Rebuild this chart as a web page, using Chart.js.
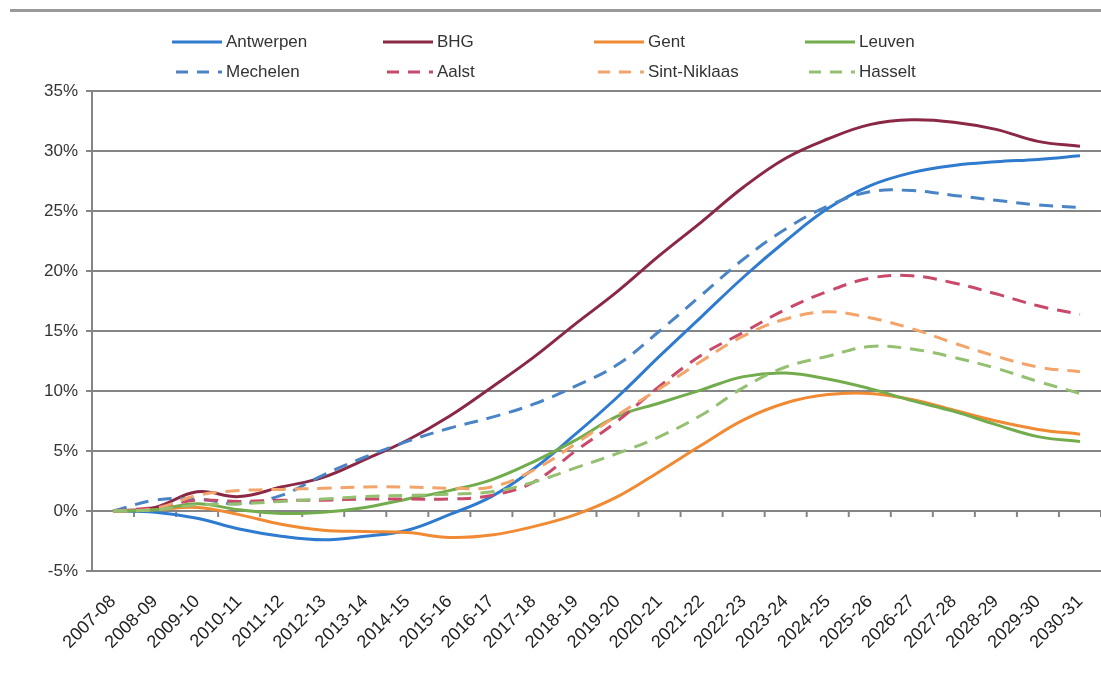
<!DOCTYPE html>
<html>
<head>
<meta charset="utf-8">
<script src="https://cdn.jsdelivr.net/npm/chart.js@4/dist/chart.umd.min.js"></script>
<style>
  body { margin: 0; background: #fff; overflow: hidden; }
  #wrap { position: relative; width: 1101px; height: 673px; }
  #topline { position: absolute; left: 10px; right: 0; top: 9px; height: 3px; background: #999; }
  #legend {
    position: absolute; left: 172px; top: 31px;
    display: grid; grid-template-columns: repeat(4, 211px); row-gap: 8px;
  }
  .item { display: flex; align-items: center; height: 22px; font: 17px "Liberation Sans", Arial, sans-serif; color: #333; }
  .item svg { margin-right: 4px; }
</style>
</head>
<body>
<div id="wrap">
  <canvas id="grafico" width="1101" height="673"></canvas>
  <div id="topline"></div>
  <div id="legend"></div>
</div>
<script>
const labels = ['2007-08','2008-09','2009-10','2010-11','2011-12','2012-13','2013-14','2014-15',
  '2015-16','2016-17','2017-18','2018-19','2019-20','2020-21','2021-22','2022-23','2023-24',
  '2024-25','2025-26','2026-27','2027-28','2028-29','2029-30','2030-31'];

const antwerpen = [0, -0.1, -0.6, -1.5, -2.1, -2.4, -2.1, -1.6, -0.3, 1.2, 3.5, 6.4, 9.5, 12.9, 16.2, 19.5, 22.5, 25.2, 27.1, 28.2, 28.8, 29.1, 29.3, 29.6];
const bhg = [0, 0.3, 1.6, 1.2, 2.0, 2.8, 4.3, 5.9, 7.9, 10.3, 12.8, 15.6, 18.3, 21.3, 24.1, 27.0, 29.4, 31.0, 32.2, 32.6, 32.4, 31.8, 30.8, 30.4];
const gent = [0, 0.1, 0.3, -0.3, -1.1, -1.6, -1.7, -1.8, -2.2, -2.0, -1.3, -0.3, 1.2, 3.3, 5.5, 7.6, 9.0, 9.7, 9.8, 9.3, 8.4, 7.5, 6.8, 6.4];
const leuven = [0, 0.1, 0.6, 0.1, -0.2, -0.1, 0.3, 1.0, 1.7, 2.6, 4.1, 5.9, 7.9, 9.0, 10.1, 11.2, 11.5, 11.0, 10.2, 9.2, 8.3, 7.2, 6.2, 5.8];
const mechelen = [0, 0.9, 1.0, 0.6, 1.3, 3.0, 4.5, 5.8, 6.9, 7.8, 8.9, 10.4, 12.2, 15.0, 18.0, 21.0, 23.5, 25.4, 26.6, 26.7, 26.3, 25.9, 25.5, 25.3];
const aalst = [0, 0.3, 0.9, 0.8, 0.9, 0.9, 1.0, 1.0, 1.0, 1.3, 2.4, 5.0, 7.5, 10.4, 13.0, 14.9, 16.8, 18.3, 19.4, 19.6, 19.0, 18.1, 17.1, 16.4];
const sintNiklaas = [0, 0.2, 1.3, 1.7, 1.8, 1.9, 2.0, 2.0, 1.9, 2.0, 3.4, 5.6, 8.0, 10.2, 12.5, 14.6, 16.0, 16.6, 16.1, 15.2, 14.0, 12.9, 12.0, 11.6];
const hasselt = [0, 0.1, 0.5, 0.6, 0.8, 1.0, 1.2, 1.3, 1.4, 1.6, 2.4, 3.6, 4.8, 6.2, 8.0, 10.3, 12.0, 12.9, 13.7, 13.5, 12.8, 11.9, 10.8, 9.8];

const gridColor = '#858585';
const dash = [14, 9];

const series = [
  { label: 'Antwerpen', data: antwerpen, color: '#2e7bcf', dashed: false },
  { label: 'BHG', data: bhg, color: '#8a2846', dashed: false },
  { label: 'Gent', data: gent, color: '#f08a33', dashed: false },
  { label: 'Leuven', data: leuven, color: '#72ac4d', dashed: false },
  { label: 'Mechelen', data: mechelen, color: '#4a84c4', dashed: true },
  { label: 'Aalst', data: aalst, color: '#c9496b', dashed: true },
  { label: 'Sint-Niklaas', data: sintNiklaas, color: '#f2a46b', dashed: true },
  { label: 'Hasselt', data: hasselt, color: '#94c071', dashed: true }
];

// kleine streepjes op de nullijn, tussen de categorieën
const zeroTicks = {
  id: 'zeroTicks',
  beforeDatasetsDraw(chart) {
    const { ctx, scales: { x, y } } = chart;
    const y0 = y.getPixelForValue(0);
    const half = (x.getPixelForValue(1) - x.getPixelForValue(0)) / 2;
    ctx.save();
    ctx.strokeStyle = gridColor;
    ctx.lineWidth = 2;
    for (let i = 0; i <= labels.length; i++) {
      const px = x.getPixelForValue(i) - half;
      ctx.beginPath();
      ctx.moveTo(px, y0);
      ctx.lineTo(px, y0 + 6);
      ctx.stroke();
    }
    ctx.restore();
  }
};

const ctx = document.getElementById('grafico').getContext('2d');
const grafico = new Chart(ctx, {
  type: 'line',
  data: {
    labels: labels,
    datasets: series.map((s, i) => ({
      label: s.label,
      data: s.data,
      borderColor: s.color,
      backgroundColor: s.color,
      borderWidth: 3,
      borderDash: s.dashed ? dash : [],
      pointRadius: 0,
      tension: 0.4,
      fill: false,
      order: series.length - i
    }))
  },
  options: {
    responsive: false,
    animation: false,
    layout: { padding: { top: 91, right: 0, bottom: 0, left: 0 } },
    plugins: {
      legend: { display: false },
      tooltip: { enabled: false }
    },
    scales: {
      x: {
        offset: true,
        afterFit: scale => { scale.paddingRight = 0; scale.paddingLeft = 0; },
        grid: { display: false, drawTicks: false },
        border: { display: false },
        ticks: {
          autoSkip: false,
          maxRotation: 45,
          minRotation: 45,
          padding: 20,
          color: '#222',
          font: { family: 'Liberation Sans', size: 18 }
        }
      },
      y: {
        min: -5,
        max: 35,
        afterFit: scale => { scale.width = 92; },
        grid: { color: gridColor, lineWidth: 2, tickLength: 6 },
        border: { display: true, color: gridColor, width: 2 },
        ticks: {
          stepSize: 5,
          padding: 8,
          color: '#333',
          font: { family: 'Liberation Sans', size: 17 },
          callback: v => v + '%'
        }
      }
    }
  },
  plugins: [zeroTicks]
});

// legenda in vier kolommen, zoals in Excel
const legend = document.getElementById('legend');
series.forEach(s => {
  const item = document.createElement('div');
  item.className = 'item';
  item.innerHTML =
    '<svg width="50" height="8"><line x1="0" y1="4" x2="50" y2="4" stroke="' + s.color +
    '" stroke-width="3"' + (s.dashed ? ' stroke-dasharray="12 9" stroke-dashoffset="-4"' : '') +
    '/></svg><span>' + s.label + '</span>';
  legend.appendChild(item);
});
</script>
</body>
</html>
